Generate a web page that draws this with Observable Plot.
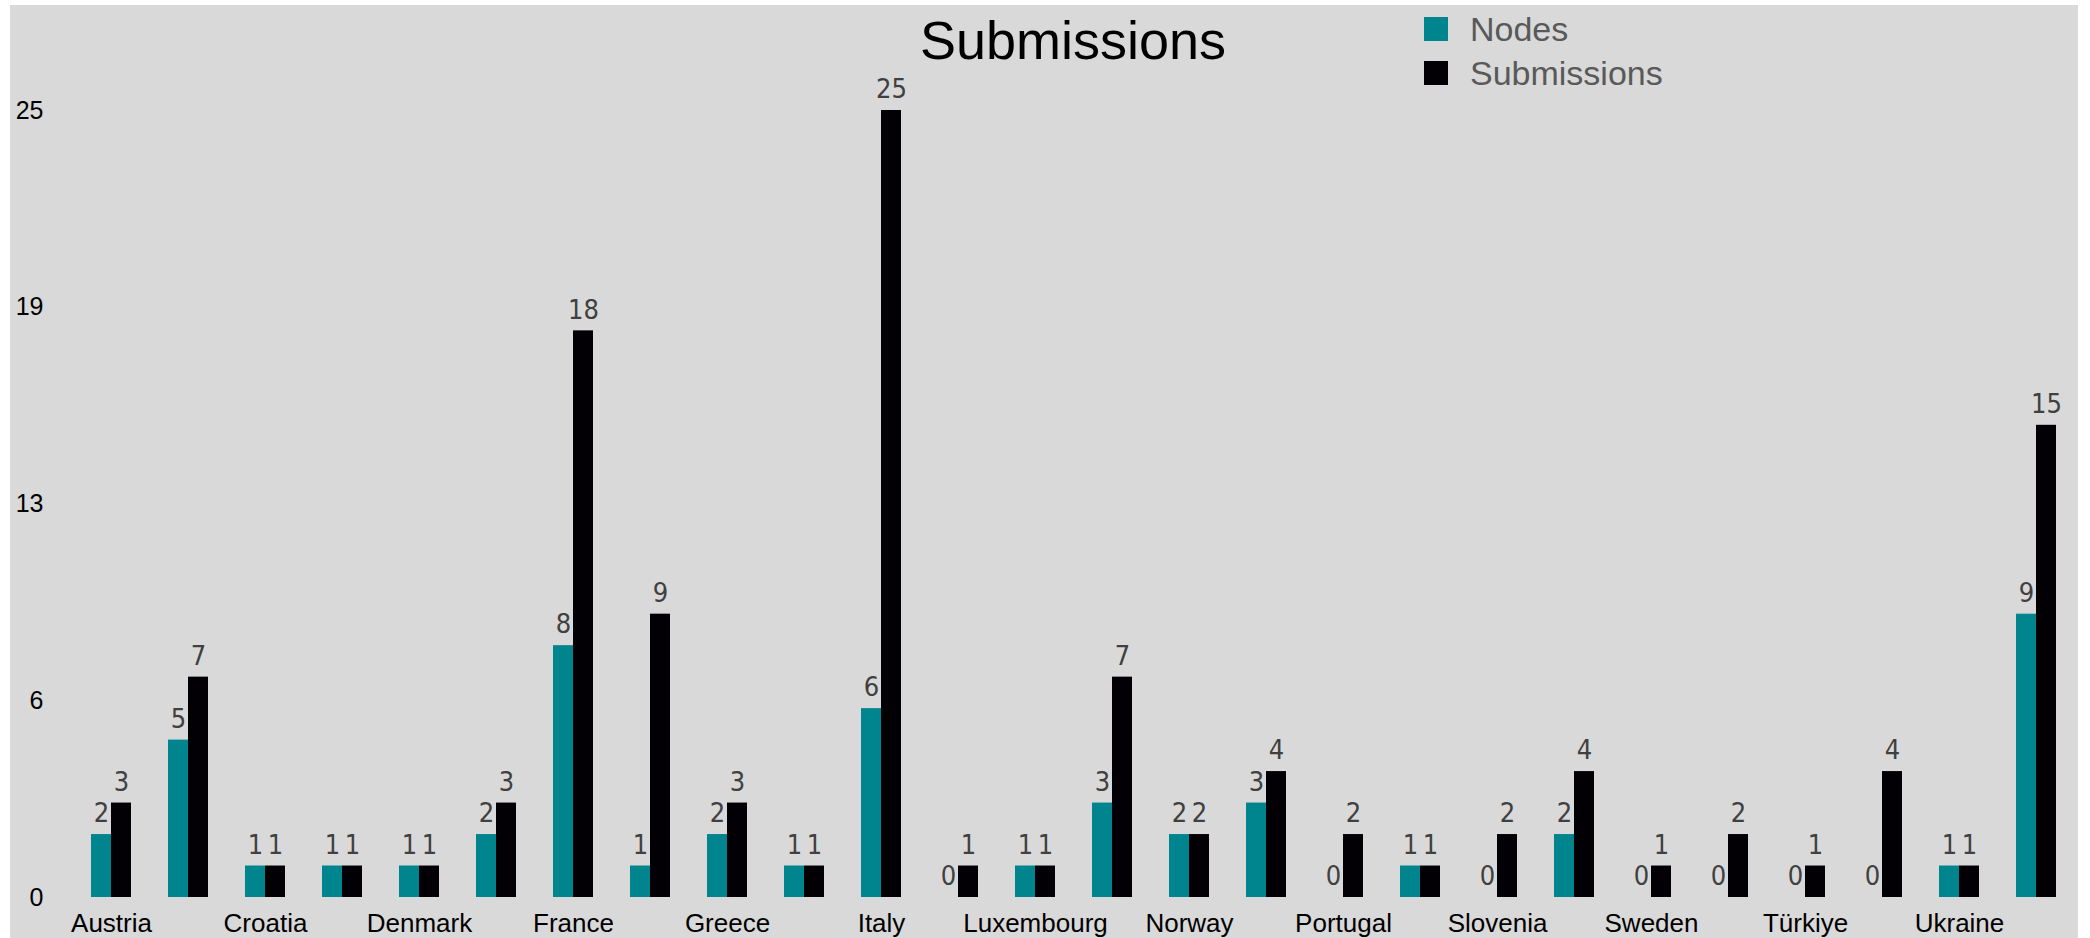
<!DOCTYPE html>
<html>
<head>
<meta charset="utf-8">
<script src="https://cdn.jsdelivr.net/npm/d3@7"></script>
<script src="https://cdn.jsdelivr.net/npm/@observablehq/plot@0.6"></script>
<style>
  html, body { margin: 0; padding: 0; background: #fff; }
  #wrap { position: relative; width: 2090px; height: 938px; overflow: hidden; }
  #panel { position: absolute; left: 10px; top: 5px; width: 2068px; height: 933px; background: #d9d9d9; }
  #chart { position: absolute; left: 0; top: 0; }
  #title { position: absolute; left: 1073px; top: 13px; transform: translateX(-50%);
           font-family: "Liberation Sans", Arial, sans-serif; font-size: 54px; line-height: 54px; color: #000; white-space: nowrap; }
  .leg { position: absolute; left: 1424px; font-family: "Liberation Sans", Arial, sans-serif; font-size: 34px; line-height: 34px; color: #595959; white-space: nowrap; }
  .leg span.sw { position: absolute; left: 0; width: 24px; height: 24px; }
  .leg span.tx { position: absolute; left: 46px; top: 0; }
</style>
</head>
<body>
<div id="wrap">
  <div id="panel"></div>
  <div id="chart"></div>
  <div id="title">Submissions</div>
  <div id="legend"></div>
</div>
<script>
const countries = ["Austria","Belgium","Croatia","Czechia","Denmark","Finland","France","Germany","Greece","Hungary","Italy","Lithuania","Luxembourg","Netherlands","Norway","Poland","Portugal","Slovakia","Slovenia","Spain","Sweden","Switzerland","Türkiye","UK","Ukraine","United Kingdom"];
const nodes       = [2,5,1,1,1,2,8,1,2,1,6,0,1,3,2,3,0,1,0,2,0,0,0,0,1,9];
const submissions = [3,7,1,1,1,3,18,9,3,1,25,1,1,7,2,4,2,1,2,4,1,2,1,4,1,15];
const seriesNames = ["Nodes","Submissions"];
const seriesColors = ["#00858f","#030005"];
const yTicks = [0, 6.25, 12.5, 18.75, 25];

const data = countries.flatMap((c, i) => [
  {country: c, series: seriesNames[0], value: nodes[i]},
  {country: c, series: seriesNames[1], value: submissions[i]}
]);

const chart = Plot.plot({
  width: 2090,
  height: 938,
  marginLeft: 70,
  marginRight: 12,
  marginTop: 110,
  marginBottom: 41,
  style: {background: "transparent", fontFamily: "Liberation Sans, Arial, sans-serif", color: "#000"},
  fx: {domain: countries, paddingInner: 0.48, paddingOuter: 0.232, label: null},
  x: {domain: seriesNames, padding: 0, axis: null},
  y: {domain: [0, 25]},
  color: {domain: seriesNames, range: seriesColors},
  marks: [
    Plot.axisY({ticks: yTicks, tickFormat: d => String(Math.round(d)), tickSize: 0, tickPadding: 48, fontSize: 25, label: null, fill: "#000"}),
    Plot.axisFx({anchor: "bottom", tickSize: 0, tickPadding: 16, fontSize: 26, label: null, fill: "#000",
      tickFormat: d => countries.indexOf(d) % 2 === 0 ? d : ""}),
    Plot.barY(data, {fx: "country", x: "series", y: "value", fill: "series"}),
    Plot.text(data, {fx: "country", x: "series", y: "value", text: d => String(d.value), dy: -21,
      fontSize: 27, fill: "#404040", fontFamily: "DejaVu Sans Condensed, DejaVu Sans"})
  ]
});
document.getElementById("chart").appendChild(chart);

const legend = document.getElementById("legend");
seriesNames.forEach((name, i) => {
  const row = document.createElement("div");
  row.className = "leg";
  row.style.top = (12 + i * 44) + "px";
  const sw = document.createElement("span");
  sw.className = "sw";
  sw.style.background = seriesColors[i];
  sw.style.top = "5px";
  const tx = document.createElement("span");
  tx.className = "tx";
  tx.textContent = name;
  row.appendChild(sw);
  row.appendChild(tx);
  legend.appendChild(row);
});
</script>
</body>
</html>
